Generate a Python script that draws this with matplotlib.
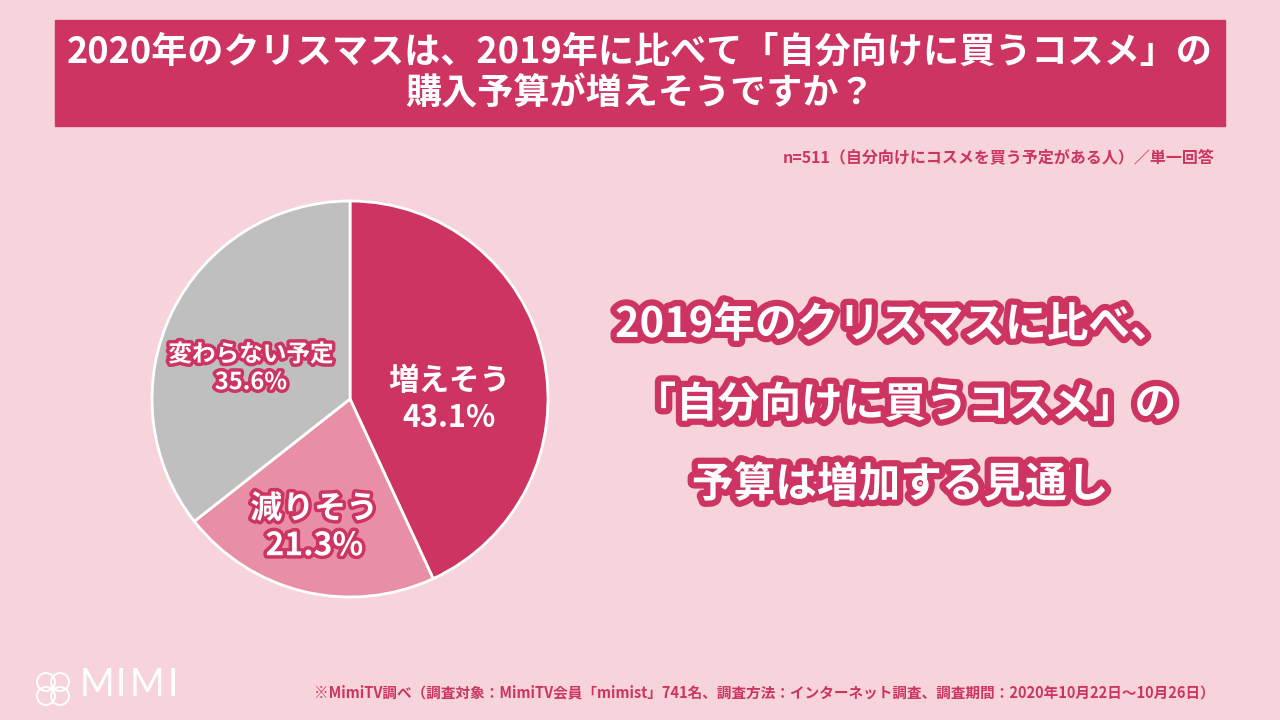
import matplotlib.pyplot as plt
import matplotlib.patheffects as pe
from matplotlib.patches import Rectangle, Ellipse

plt.rcParams['font.family'] = ['Noto Sans CJK JP', 'DejaVu Sans']

# data
categories = ["増えそう", "減りそう", "変わらない予定"]
shares = [43.1, 21.3, 35.6]
slice_colors = ["#CD3461", "#E88FA7", "#BFBFBF"]

title = "2020年のクリスマスは、2019年に比べて「自分向けに買うコスメ」の\n購入予算が増えそうですか？"
note = "n=511（自分向けにコスメを買う予定がある人）／単一回答"
headline = ["2019年のクリスマスに比べ、", "「自分向けに買うコスメ」の", "予算は増加する見通し"]
source = "※MimiTV調べ（調査対象：MimiTV会員「mimist」741名、調査方法：インターネット調査、調査期間：2020年10月22日～10月26日）"

BG = "#F7D4DC"
CRIMSON = "#CD3461"
W, H = 1280, 720


def fx(px):
    return px / W


def fy(py):
    return 1 - py / H


fig = plt.figure(figsize=(12.8, 7.2), dpi=100, facecolor=BG)

# title bar
fig.patches.append(Rectangle((fx(55), fy(126)), fx(1225) - fx(55), fy(20) - fy(126),
                             transform=fig.transFigure, color=CRIMSON, zorder=0))
fig.text(fx(640), fy(73), title, color="white", fontsize=26, fontweight="bold",
         ha="center", va="center", linespacing=1.15)

fig.text(fx(1215), fy(157), note, color=CRIMSON, fontsize=11.5, fontweight="bold",
         ha="right", va="center")

# pie
ax = fig.add_axes([fx(152), fy(597), fx(548) - fx(152), fy(201) - fy(597)])
ax.set_aspect("equal")
wedges, _ = ax.pie(shares, colors=slice_colors, startangle=90, counterclock=False,
                   wedgeprops=dict(edgecolor="white", linewidth=2, clip_on=False))
ax.set_xlim(-1.0, 1.0)
ax.set_ylim(-1.0, 1.0)

outline = [pe.withStroke(linewidth=5, foreground=CRIMSON)]
label_pos = [(0.50, 0.0), (-0.18, -0.65), (-0.50, 0.155)]
label_size = [22, 23, 17]
for (x, y), name, val, size, wdg in zip(label_pos, categories, shares, label_size, range(3)):
    effects = None if wdg == 0 else outline
    ax.text(x, y, f"{name}\n{val:.1f}%", color="white", fontsize=size, fontweight="bold",
            ha="center", va="center", linespacing=1.2, path_effects=effects)

# headline
head_x = [893, 905, 900]
head_y = [325, 405, 485]
for line, x, y in zip(headline, head_x, head_y):
    fig.text(fx(x), fy(y), line, color="white", fontsize=30, fontweight="bold",
             ha="center", va="center",
             path_effects=[pe.withStroke(linewidth=9, foreground=CRIMSON)])

# footer
fig.text(fx(1215), fy(692), source, color=CRIMSON, fontsize=10.5, fontweight="bold",
         ha="right", va="center")

# logo
for cx, cy in [(46, 682), (60, 682), (46, 696), (60, 696)]:
    fig.patches.append(Ellipse((fx(cx), fy(cy)), fx(18), 18 / H, transform=fig.transFigure,
                               fill=False, edgecolor="white", linewidth=1.4))
for i, ch in enumerate("MIMI"):
    fig.text(fx([80, 116, 130, 168][i]), fy(685), ch, color="white", fontsize=27,
             family=["Lato", "DejaVu Sans"], fontweight="normal", ha="left", va="center")

fig.savefig("out.png", dpi=100, facecolor=BG)
